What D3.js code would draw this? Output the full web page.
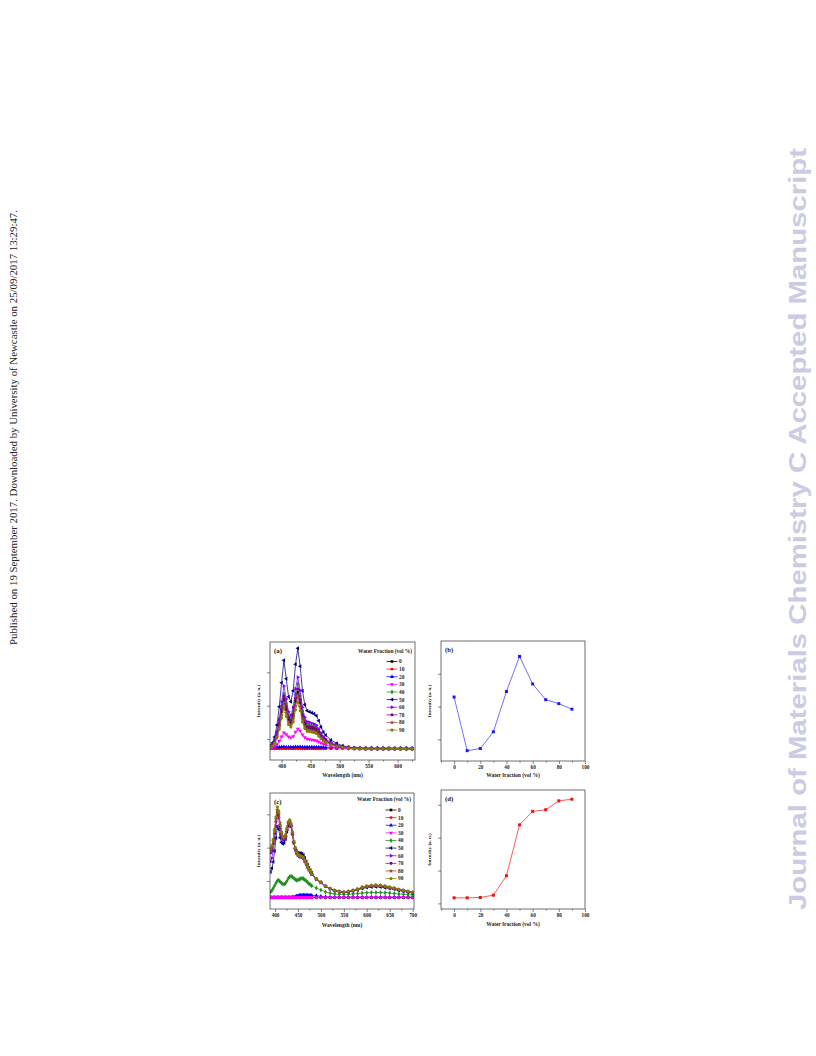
<!DOCTYPE html>
<html><head><meta charset="utf-8">
<script src="https://cdn.jsdelivr.net/npm/d3@7"></script>
<style>body{margin:0;background:#fff}svg{display:block}</style>
</head><body>
<svg id="page" width="816" height="1056"></svg>
<script>
// ---------------- DATA ----------------
const fractionLabels = ["0","10","20","30","40","50","60","70","80","90"];
const waterFraction = [0,10,20,30,40,50,60,70,80,90];

const wavelengthA = [380,384,388,392,396,400,404,408,412,416,420,424,428,432,436,440,444,448,452,456,460,464,468,472,476,
  485,495,505,515,525,535,545,555,565,575,585,595,605,615,625];
const intensityA_0  = [50,100,205,410,715,1120,1500,1190,885,800,985,1430,1700,1390,985,750,645,630,610,595,560,475,375,290,240, 155,95,56,34,20,14,9,9,9,9,9,9,9,9,9];
const intensityA_10 = [5,5,5,5,6,6,6,6,6,6,6,6,6,6,6,6,6,6,6,5,5,5,5,5,5, 5,4,4,4,4,4,3,3,3,3,3,3,3,3,3];
const intensityA_20 = [50,52,55,58,60,62,62,60,60,60,60,62,64,62,60,60,58,58,56,56,55,55,54,52,50, 48,45,42,40,38,36,35,34,33,32,31,30,30,30,30];
const intensityA_30 = [20,40,75,140,240,370,490,440,370,340,380,510,600,540,430,350,300,285,275,265,250,220,180,145,120, 80,50,30,18,10,6,4,4,4,4,4,4,4,4,4];
const intensityA_40 = [60,115,235,470,820,1290,1650,1360,1010,920,1130,1640,1950,1600,1130,860,740,720,700,680,640,550,430,330,270, 175,105,65,40,23,16,10,10,10,10,10,10,10,10,10];
const intensityA_50 = [90,180,360,720,1270,1990,2660,2110,1570,1420,1750,2540,3020,2480,1750,1330,1150,1120,1090,1060,1000,850,660,510,420, 270,170,100,60,36,24,15,15,15,15,15,15,15,15,15];
const intensityA_60 = [65,130,260,520,900,1420,1890,1500,1120,1010,1250,1810,2150,1760,1250,950,820,800,770,750,710,600,470,365,300, 195,120,70,43,26,17,11,11,11,11,11,11,11,11,11];
const intensityA_70 = [55,110,215,430,760,1190,1580,1260,940,850,1040,1510,1800,1480,1040,790,680,665,650,630,595,505,395,305,250, 160,100,60,36,22,14,9,9,9,9,9,9,9,9,9];
const intensityA_80 = [45,95,185,370,650,1020,1360,1085,805,730,900,1300,1550,1270,900,680,590,575,560,540,510,435,340,265,215, 140,85,51,31,19,12,8,8,8,8,8,8,8,8,8];
const intensityA_90 = [40,85,170,335,590,925,1230,980,730,660,810,1175,1400,1150,810,615,530,520,505,490,460,390,310,240,195, 125,77,46,28,17,11,7,7,7,7,7,7,7,7,7];

const wavelengthC = [390,393,396,399,402,405,408,411,414,417,420,423,426,429,432,435,438,441,444,447,450,453,456,459,462,465,468,471,474,477,480,
  490,500,510,520,530,540,550,560,570,580,590,600,610,620,630,640,650,660,670,680,690,700];
const intensityC_0  = [3,3,3,3,3,3,3,3,3,3,3,3,3,3,3,3,3,3,3,3,3,3,3,3,3,3,3,3,3,3,3, 3,3,3,3,3,3,3,3,3,3,3,3,3,3,3,3,3,3,3,3,3,3];
const intensityC_10 = [8,8,8,8,8,8,8,8,8,8,8,8,8,8,8,8,8,8,8,8,8,8,8,8,8,8,8,8,8,8,8, 8,8,8,8,8,8,8,8,8,8,8,8,8,8,8,8,8,8,8,8,8,8];
const intensityC_20 = [10,10,10,10,12,12,12,12,12,12,14,14,14,14,14,14,16,20,30,45,60,70,75,78,78,78,76,75,74,72,70, 60,40,25,18,15,15,15,15,15,15,15,15,15,15,15,15,15,15,15,15,15,15];
const intensityC_30 = [6,6,6,6,6,6,6,6,6,6,6,6,6,6,6,6,6,6,6,6,6,6,6,6,6,6,6,6,6,6,6, 5,5,5,5,5,5,5,5,5,5,5,5,5,5,5,5,5,5,5,5,5,5];
const intensityC_40 = [170,210,280,360,440,510,520,480,440,410,405,430,500,580,630,640,620,580,545,525,530,550,570,580,570,540,500,460,420,385,360, 290,230,170,140,110,100,100,100,110,125,140,150,155,155,155,150,140,125,110,100,90,80];
const intensityC_50 = [770,880,1080,1400,1800,2130,2050,1800,1660,1620,1650,1760,1980,2160,2220,2120,1900,1660,1480,1390,1350,1340,1330,1320,1280,1190,1090,990,900,820,750, 560,460,340,265,205,175,158,172,198,232,278,302,318,325,318,300,276,250,218,192,166,140];
const intensityC_60 = [1080,1180,1400,1740,2150,2480,2400,2080,1850,1740,1730,1820,2020,2200,2260,2140,1900,1640,1450,1340,1280,1250,1230,1220,1180,1100,1010,925,845,775,710, 545,455,340,270,212,183,165,185,215,255,310,340,360,370,360,340,312,282,244,214,185,156];
const intensityC_70 = [1340,1430,1620,1920,2280,2580,2480,2150,1900,1780,1760,1840,2040,2220,2280,2160,1920,1650,1460,1340,1280,1240,1220,1210,1170,1090,1000,915,835,765,700, 540,450,335,268,210,180,163,180,210,248,300,330,350,360,350,330,303,275,238,210,180,152];
const intensityC_80 = [1420,1500,1690,1990,2350,2640,2530,2190,1930,1800,1770,1850,2050,2230,2290,2170,1940,1670,1470,1350,1290,1250,1230,1220,1180,1100,1010,925,845,775,705, 545,455,340,270,212,183,165,183,212,250,305,335,355,365,355,335,308,278,240,212,183,155];
const intensityC_90 = [1480,1560,1750,2050,2420,2720,2600,2250,1980,1850,1820,1900,2100,2280,2340,2220,1980,1700,1500,1380,1310,1270,1250,1240,1200,1120,1030,940,860,790,720, 560,470,350,280,220,190,170,190,220,260,320,350,370,380,370,350,320,290,250,220,190,160];

const peakIntensityB = [2.29,0.655,0.72,1.23,2.46,3.53,2.69,2.21,2.09,1.92];
const peakIntensityD = [0.17,0.17,0.18,0.25,0.84,2.39,2.80,2.85,3.12,3.17];

const wavelengthTicksA = [400,450,500,550,600];
const wavelengthMinorA = [425,475,525,575,625];
const wavelengthTicksC = [400,450,500,550,600,650,700];
const wavelengthMinorC = [425,475,525,575,625,675];
const fractionTicks = [0,20,40,60,80,100];
const fractionMinor = [-10,10,30,50,70,90];
const intensityTicksA = [300,1300,2300];
const intensityTicksC = [500,1500,2500];
const intensityTicksB = [1,2,3];
const intensityTicksD = [0,1,2,3];

const seriesColors = ["#000000","#ff0000","#0000ff","#ff00ff","#1f8f1f","#000080","#8000ff","#800080","#a04040","#808000"];

// ---------------- DRAWING ----------------
const svg = d3.select("#page");
const SERIF = "'Liberation Serif','Times New Roman',serif";

function poly(n, start) {
  return { draw(ctx, size) {
    const r = Math.sqrt(size / (0.5 * n * Math.sin(2 * Math.PI / n)));
    for (let i = 0; i < n; i++) {
      const a = start + i * 2 * Math.PI / n;
      const px = r * Math.sin(a), py = -r * Math.cos(a);
      if (i) ctx.lineTo(px, py); else ctx.moveTo(px, py);
    }
    ctx.closePath();
  }};
}
const symbolTypes = [d3.symbolSquare, d3.symbolCircle, poly(3,0), poly(3,Math.PI), d3.symbolDiamond,
  poly(3,-Math.PI/2), poly(3,Math.PI/2), poly(6,Math.PI/6), d3.symbolStar, poly(5,0)];

let clipId = 0;
function frame(o) {
  const g = svg.append("g");
  const x = d3.scaleLinear().domain(o.xDomain).range([o.left, o.right]);
  const y = d3.scaleLinear().domain(o.yDomain).range([o.bottom, o.top]);
  const id = "clip" + (clipId++);
  g.append("clipPath").attr("id", id).append("rect")
    .attr("x", o.left).attr("y", o.top).attr("width", o.right - o.left).attr("height", o.bottom - o.top);
  const plot = g.append("g").attr("clip-path", `url(#${id})`);

  // axes
  const xa = g.append("g").attr("transform", `translate(0,${o.bottom})`)
    .call(d3.axisBottom(x).tickValues(o.xTicks).tickSize(3).tickPadding(1.5).tickFormat(d3.format("d")));
  g.append("g").attr("transform", `translate(0,${o.bottom})`)
    .call(d3.axisBottom(x).tickValues(o.xMinor).tickSize(1.6).tickFormat(""));
  g.append("g").attr("transform", `translate(${o.left},0)`)
    .call(d3.axisLeft(y).tickValues(o.yTicks).tickSize(3).tickFormat(""));
  g.selectAll(".domain").remove();
  g.selectAll(".tick line").attr("stroke", "#333").attr("stroke-width", 0.6);
  xa.selectAll("text").attr("font-family", SERIF).attr("font-weight", "bold")
    .attr("font-size", 5.2).attr("fill", "#222");

  g.append("rect").attr("x", o.left).attr("y", o.top)
    .attr("width", o.right - o.left).attr("height", o.bottom - o.top)
    .attr("fill", "none").attr("stroke", "#333").attr("stroke-width", 0.7);

  g.append("text").attr("x", o.left + 4).attr("y", o.top + 10.5)
    .attr("font-family", SERIF).attr("font-weight", "bold").attr("font-size", 6.8).attr("fill", "#222")
    .text(o.letter);
  g.append("text").attr("x", (o.left + o.right) / 2).attr("y", o.bottom + o.xLabelDy)
    .attr("text-anchor", "middle").attr("font-family", SERIF).attr("font-weight", "bold")
    .attr("font-size", 5.5).attr("fill", "#222").text(o.xLabel);
  g.append("text").attr("transform", `translate(${o.left - 10},${(o.top + o.bottom) / 2}) rotate(-90)`)
    .attr("text-anchor", "middle").attr("font-family", SERIF).attr("font-weight", "bold")
    .attr("font-size", 5).attr("fill", "#222").text("Intensity (a. u.)");
  return { g, plot, x, y };
}

function spectraPanel(o) {
  const f = frame(o);
  o.series.forEach((vals, i) => {
    const pts = o.wl.map((w, k) => [w, vals[k]]);
    f.plot.append("path").datum(pts)
      .attr("d", d3.line().x(d => f.x(d[0])).y(d => f.y(d[1])))
      .attr("fill", "none").attr("stroke", seriesColors[i]).attr("stroke-width", 0.75);
    const sym = d3.symbol().type(symbolTypes[i]).size(7);
    f.plot.selectAll(null).data(pts).join("path")
      .attr("transform", d => `translate(${f.x(d[0])},${f.y(d[1])})`)
      .attr("d", sym).attr("fill", seriesColors[i]);
  });
  // legend
  const lg = f.g.append("g");
  lg.append("text").attr("x", o.right - 3).attr("y", o.legendTop - 8.6)
    .attr("text-anchor", "end").attr("font-family", SERIF).attr("font-weight", "bold")
    .attr("font-size", 5.4).attr("fill", "#222").text("Water Fraction (vol %)");
  fractionLabels.forEach((lab, i) => {
    const yy = o.legendTop + i * 7.62;
    lg.append("line").attr("x1", o.right - 28.5).attr("x2", o.right - 17.5).attr("y1", yy).attr("y2", yy)
      .attr("stroke", seriesColors[i]).attr("stroke-width", 0.75);
    lg.append("path").attr("transform", `translate(${o.right - 23},${yy})`)
      .attr("d", d3.symbol().type(symbolTypes[i]).size(7)).attr("fill", seriesColors[i]);
    lg.append("text").attr("x", o.right - 16).attr("y", yy + 1.9)
      .attr("font-family", SERIF).attr("font-weight", "bold").attr("font-size", 5.4).attr("fill", "#222").text(lab);
  });
}

function trendPanel(o) {
  const f = frame(o);
  const pts = waterFraction.map((w, k) => [w, o.values[k]]);
  f.plot.append("path").datum(pts)
    .attr("d", d3.line().x(d => f.x(d[0])).y(d => f.y(d[1])))
    .attr("fill", "none").attr("stroke", o.lineColor).attr("stroke-width", 0.8);
  f.plot.selectAll(null).data(pts).join("rect")
    .attr("x", d => f.x(d[0]) - 1.5).attr("y", d => f.y(d[1]) - 1.5)
    .attr("width", 3).attr("height", 3).attr("fill", o.markColor);
}

spectraPanel({ left: 270, right: 415, top: 642, bottom: 760, xDomain: [380, 630], yDomain: [-330, 3210],
  xTicks: wavelengthTicksA, xMinor: wavelengthMinorA, yTicks: intensityTicksA, letter: "(a)",
  xLabel: "Wavelength (nm)", xLabelDy: 16.5, wl: wavelengthA, legendTop: 661.5,
  series: [intensityA_0,intensityA_10,intensityA_20,intensityA_30,intensityA_40,intensityA_50,intensityA_60,intensityA_70,intensityA_80,intensityA_90] });

trendPanel({ left: 441, right: 585, top: 641, bottom: 761, xDomain: [-10, 100], yDomain: [0.34, 4.0],
  xTicks: fractionTicks, xMinor: fractionMinor, yTicks: intensityTicksB, letter: "(b)",
  xLabel: "Water fraction (vol %)", xLabelDy: 15.5, values: peakIntensityB, lineColor: "#4a4aff", markColor: "#1a1aee" });

spectraPanel({ left: 270, right: 414, top: 793, bottom: 909, xDomain: [389, 703], yDomain: [-340, 3140],
  xTicks: wavelengthTicksC, xMinor: wavelengthMinorC, yTicks: intensityTicksC, letter: "(c)",
  xLabel: "Wavelength (nm)", xLabelDy: 18, wl: wavelengthC, legendTop: 810,
  series: [intensityC_0,intensityC_10,intensityC_20,intensityC_30,intensityC_40,intensityC_50,intensityC_60,intensityC_70,intensityC_80,intensityC_90] });

trendPanel({ left: 441, right: 585, top: 790, bottom: 909, xDomain: [-10, 100], yDomain: [-0.17, 3.45],
  xTicks: fractionTicks, xMinor: fractionMinor, yTicks: intensityTicksD, letter: "(d)",
  xLabel: "Water fraction (vol %)", xLabelDy: 17, values: peakIntensityD, lineColor: "#ff3030", markColor: "#ee1010" });

// page furniture
svg.append("text").attr("transform", "translate(17,645) rotate(-90)")
  .attr("font-family", SERIF).attr("font-size", 10).attr("fill", "#222")
  .attr("textLength", 435).attr("lengthAdjust", "spacingAndGlyphs")
  .text("Published on 19 September 2017. Downloaded by University of Newcastle on 25/09/2017 13:29:47.");
svg.append("text").attr("transform", "translate(806,910) rotate(-90)")
  .attr("font-family", "'Liberation Sans',Arial,sans-serif").attr("font-weight", "bold")
  .attr("font-size", 23.5).attr("fill", "#cbcbe3")
  .attr("textLength", 762).attr("lengthAdjust", "spacingAndGlyphs")
  .text("Journal of Materials Chemistry C Accepted Manuscript");
</script>
</body></html>
